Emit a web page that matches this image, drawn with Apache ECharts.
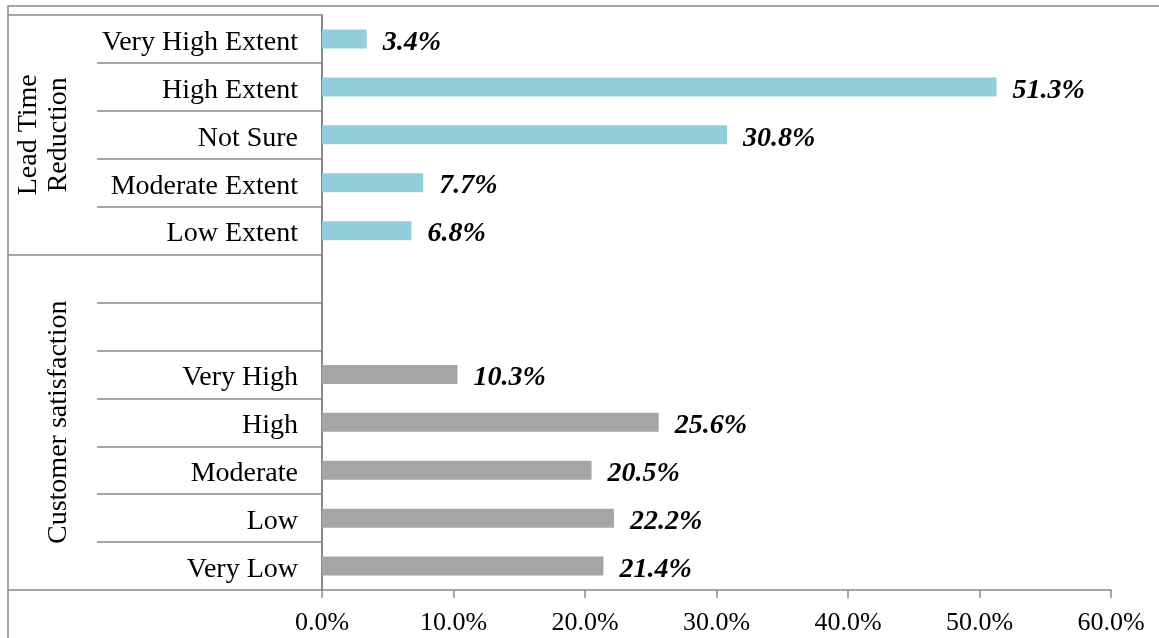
<!DOCTYPE html>
<html>
<head>
<meta charset="utf-8">
<script src="https://cdn.jsdelivr.net/npm/echarts@6/dist/echarts.min.js"></script>
<style>
  html, body { margin: 0; padding: 0; background: #fff; }
  #chart { width: 1159px; height: 638px; }
</style>
</head>
<body>
<div id="chart"></div>
<script>
// Row labels, top to bottom
const categories = [
  'Very High Extent', 'High Extent', 'Not Sure', 'Moderate Extent', 'Low Extent',
  '', ' ',
  'Very High', 'High', 'Moderate', 'Low', 'Very Low'
];
// Group captions, placed on the middle row of each group
const groupLabels = ['', '', 'Lead Time\nReduction', '', '', '', '', '', 'Customer satisfaction', '', '', ''];
// First row index of each group (group boundaries)
const groupStarts = [0, 5];

// Percent values per row ('-' = no bar in that row)
const leadTimeValues = [3.4, 51.3, 30.8, 7.7, 6.8, '-', '-', '-', '-', '-', '-', '-'];
const satisfactionValues = ['-', '-', '-', '-', '-', '-', '-', 10.3, 25.6, 20.5, 22.2, 21.4];

// Value axis ticks
const xTicks = [0, 10, 20, 30, 40, 50, 60];

const FONT = 'Liberation Serif';
const AXIS_GREY = '#898989';

const chart = echarts.init(document.getElementById('chart'), null, { renderer: 'canvas' });

// text pushed slightly below the row centre
const lowered = { t: { padding: [7, 0, 0, 0] } };

const valueLabel = {
  show: true,
  position: 'right',
  distance: 16,
  fontFamily: FONT,
  fontSize: 28,
  fontWeight: 'bold',
  fontStyle: 'italic',
  color: '#000',
  formatter: p => '{t|' + p.value.toFixed(1) + '%}',
  rich: {
    t: { padding: [7, 0, 0, 0], fontFamily: FONT, fontSize: 28, fontWeight: 'bold', fontStyle: 'italic', color: '#000' }
  }
};

chart.setOption({
  animation: false,
  backgroundColor: '#fff',
  graphic: [{
    type: 'rect',
    shape: { x: 8, y: 6, width: 1300, height: 800 },
    style: { fill: 'none', stroke: AXIS_GREY, lineWidth: 1.5 },
    silent: true,
    z: 0
  }],
  grid: { left: 322, right: 48, top: 15, bottom: 48, containLabel: false },
  xAxis: {
    type: 'value',
    min: xTicks[0],
    max: xTicks[xTicks.length - 1],
    interval: xTicks[1] - xTicks[0],
    axisLine: { show: true, lineStyle: { color: AXIS_GREY, width: 1.5 } },
    axisTick: { show: true, length: 8, lineStyle: { color: AXIS_GREY, width: 1.5 } },
    splitLine: { show: false },
    axisLabel: {
      margin: 20,
      fontFamily: FONT,
      fontSize: 26,
      color: '#000',
      formatter: v => v.toFixed(1) + '%'
    }
  },
  yAxis: [{
    // inner level: one row per answer
    type: 'category',
    data: categories,
    inverse: true,
    boundaryGap: true,
    axisLine: { show: true, lineStyle: { color: AXIS_GREY, width: 2 } },
    axisTick: { show: true, inside: false, length: 225, lineStyle: { color: AXIS_GREY, width: 1.5 } },
    axisLabel: {
      interval: 0,
      margin: 24,
      fontFamily: FONT,
      fontSize: 28,
      color: '#000',
      formatter: v => v.trim() ? '{t|' + v + '}' : '',
      rich: {
        t: { padding: [7, 0, 0, 0], fontFamily: FONT, fontSize: 28, color: '#000' }
      }
    }
  }, {
    // outer level: question groups
    type: 'category',
    data: groupLabels,
    inverse: true,
    boundaryGap: true,
    position: 'left',
    axisLine: { show: false },
    axisTick: {
      show: true,
      inside: false,
      length: 314,
      interval: (idx) => groupStarts.indexOf(idx) >= 0,
      lineStyle: { color: AXIS_GREY, width: 1.5 }
    },
    axisLabel: {
      interval: 0,
      rotate: 90,
      margin: 248,
      align: 'center',
      verticalAlign: 'bottom',
      lineHeight: 30,
      fontFamily: FONT,
      fontSize: 28,
      color: '#000'
    }
  }],
  series: [{
    name: 'Lead Time Reduction',
    type: 'bar',
    yAxisIndex: 0,
    data: leadTimeValues,
    barWidth: 19,
    barGap: '-100%',
    itemStyle: { color: '#92CDDC' },
    label: valueLabel
  }, {
    name: 'Customer satisfaction',
    type: 'bar',
    yAxisIndex: 0,
    data: satisfactionValues,
    barWidth: 19,
    barGap: '-100%',
    itemStyle: { color: '#A5A5A5' },
    label: valueLabel
  }]
});
</script>
</body>
</html>
